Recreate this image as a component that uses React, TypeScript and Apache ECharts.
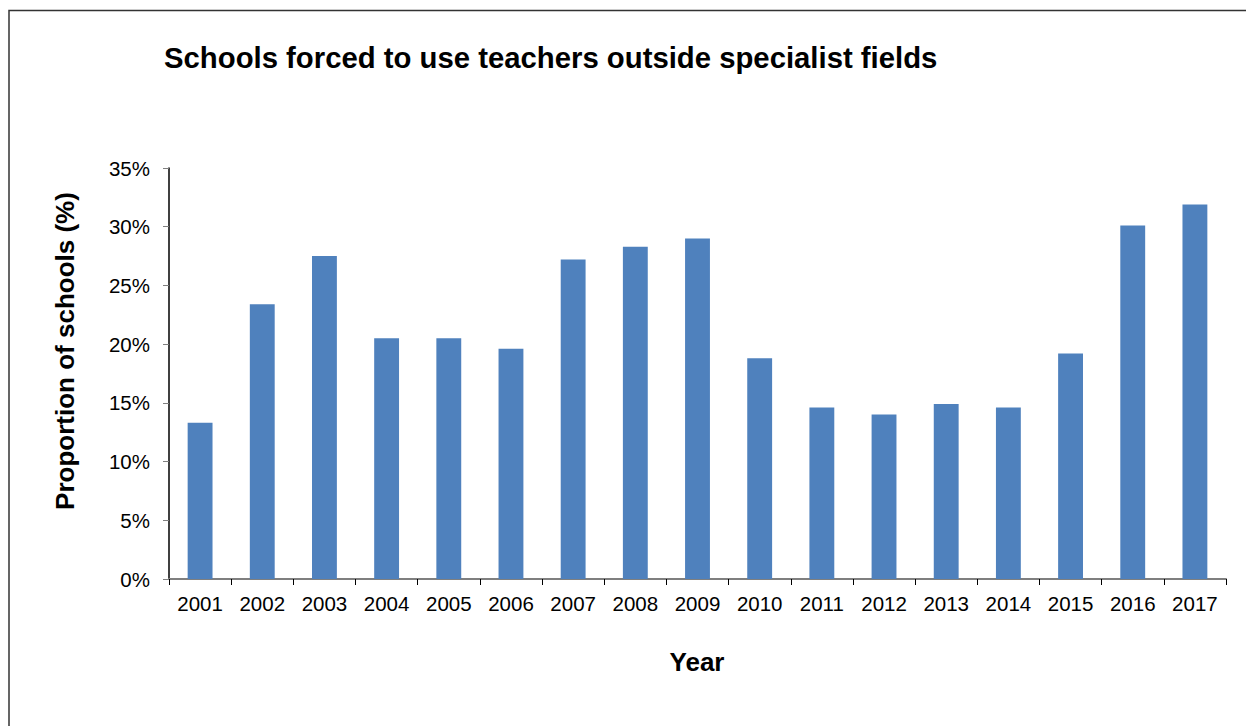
import React, { useEffect, useRef } from "react";
import * as echarts from "echarts";

const years = ["2001", "2002", "2003", "2004", "2005", "2006", "2007", "2008", "2009", "2010", "2011", "2012", "2013", "2014", "2015", "2016", "2017"];
const proportions = [13.3, 23.4, 27.5, 20.5, 20.5, 19.6, 27.2, 28.3, 29.0, 18.8, 14.6, 14.0, 14.9, 14.6, 19.2, 30.1, 31.9];
const titleText = "Schools forced to use teachers outside specialist fields";
const yAxisName = "Proportion of schools (%)";
const xAxisName = "Year";

const FONT = "'Liberation Sans', Arial, sans-serif";

export default function App() {
  const ref = useRef<HTMLDivElement>(null);
  useEffect(() => {
    if (!ref.current) return;
    const chart = echarts.init(ref.current, undefined, { renderer: "svg" });
    chart.setOption({
      animation: false,
      backgroundColor: "#ffffff",
      title: {
        text: titleText,
        left: 159,
        top: 38,
        textStyle: { fontFamily: FONT, fontSize: 29.3, fontWeight: "bold", color: "#000000" },
      },
      grid: { left: 169, right: 20, top: 168, bottom: 147, containLabel: false },
      xAxis: {
        type: "category",
        data: years,
        axisLine: { show: true, lineStyle: { color: "#7f7f7f", width: 2 } },
        axisTick: { show: true, length: 6, lineStyle: { color: "#000000", width: 1 } },
        axisLabel: { fontFamily: FONT, fontSize: 20.5, color: "#000000", margin: 14 },
      },
      yAxis: {
        type: "value",
        min: 0,
        max: 35,
        interval: 5,
        splitLine: { show: false },
        axisLine: { show: true, lineStyle: { color: "#000000", width: 1.5 } },
        axisTick: { show: true, length: 6, lineStyle: { color: "#7f7f7f", width: 1 } },
        axisLabel: { fontFamily: FONT, fontSize: 20.5, color: "#000000", margin: 19, formatter: (v: number) => v + "%" },
      },
      series: [
        {
          type: "bar",
          data: proportions,
          barWidth: "40%",
          itemStyle: { color: "#4f81bd" },
        },
      ],
      graphic: [
        {
          type: "rect",
          shape: { x: 9, y: 10.5, width: 1400, height: 900 },
          style: { fill: "none", stroke: "#333333", lineWidth: 1.5 },
          silent: true,
        },
        {
          type: "text",
          x: 65,
          y: 351,
          rotation: Math.PI / 2,
          style: {
            text: yAxisName,
            font: `bold 26px ${FONT}`,
            fill: "#000000",
            align: "center",
            verticalAlign: "middle",
          },
        },
        {
          type: "text",
          x: 697,
          y: 662,
          style: {
            text: xAxisName,
            font: `bold 26px ${FONT}`,
            fill: "#000000",
            align: "center",
            verticalAlign: "middle",
          },
        },
      ],
    });
    return () => chart.dispose();
  }, []);
  return <div ref={ref} style={{ position: "fixed", left: 0, top: 0, width: 1246, height: 726 }} />;
}
